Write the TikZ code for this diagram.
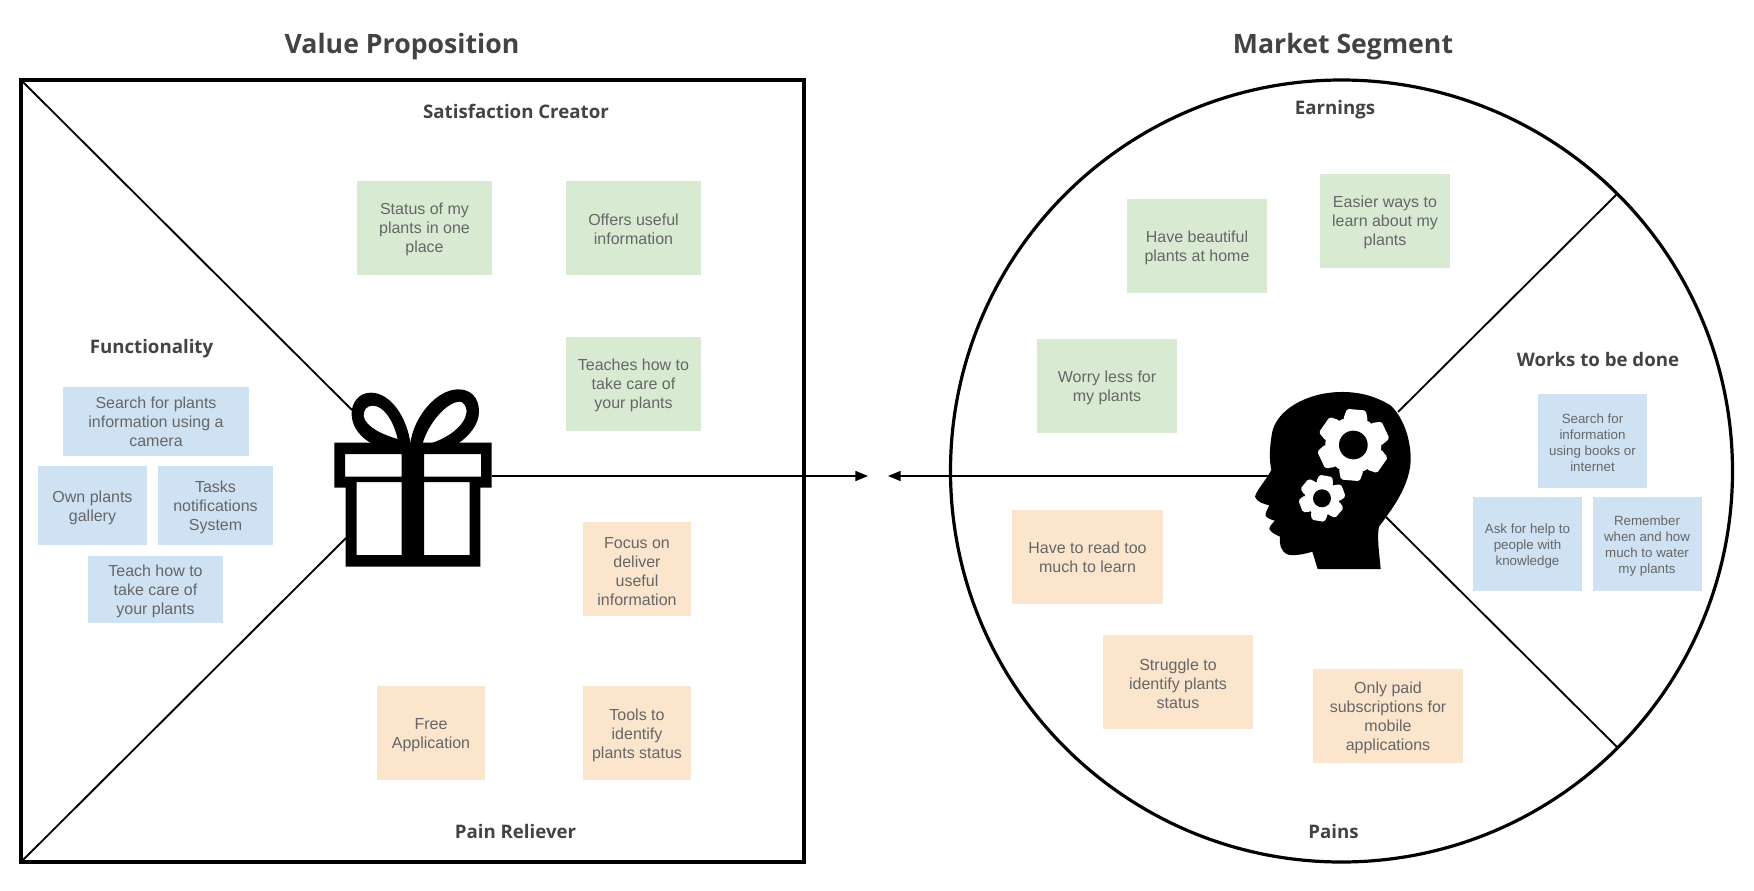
\documentclass[tikz,border=0pt]{standalone}
\usepackage{fontspec}
\usetikzlibrary{arrows.meta}
\setmainfont{Liberation Sans}
\newfontfamily\headfont{Open Sans}
\definecolor{headgrey}{HTML}{434343}
\definecolor{notegrey}{HTML}{666666}
\definecolor{notegreen}{HTML}{D9EAD3}
\definecolor{noteblue}{HTML}{CFE2F3}
\definecolor{noteorange}{HTML}{FCE5CD}

% taller first line, sets the text a little low in its note
\newcommand{\lowtext}{\rule{0pt}{1em}}

% one cog: centre, outer radius, root radius, hole radius, turn
\newcommand{\cogwheel}[5]{
	\begin{scope}[shift={(#1)}]
		\fill[white] (0,0) circle (#3);
		\foreach \a in {0,60,...,300}
			\fill[white,line join=round,draw=white,line width=3.5pt] (\a+#5-20:#3) -- (\a+#5-13:#2) -- (\a+#5+13:#2) -- (\a+#5+20:#3) -- cycle;
		\fill[black] (0,0) circle (#4);
	\end{scope}
}

\begin{document}
\begin{tikzpicture}[x=0.75pt,y=-0.75pt,
	heading/.style={font=\headfont\bfseries\fontsize{14}{17}\selectfont, text=headgrey},
	title/.style={font=\headfont\bfseries\fontsize{20}{24}\selectfont, text=headgrey},
	note/.style={font=\fontsize{12}{14.25}\selectfont, text=notegrey, align=center, inner sep=2pt, minimum width=101.25pt, minimum height=70.5pt},
	smallnote/.style={note, font=\fontsize{10}{12}\selectfont, minimum width=81.75pt},
	pile/.style={line width=1.3pt, -{Triangle[length=9.5pt,width=7.5pt]}},
	spoke/.style={line width=1.4pt},
	rim/.style={line width=2.4pt}]

	\useasboundingbox (0,0) rectangle (1754,890);

	% Outlines
	\draw[rim] (21,80) rectangle (804,862);
	\draw[rim] (1341.5,471) circle (391);

	\coordinate (boxNW) at (21,80);
	\coordinate (boxSW) at (21,862);
	\coordinate (giftNW) at (352,410);
	\coordinate (giftSW) at (346,538);
	\coordinate (giftE) at (492,476);
	\coordinate (headE) at (1270,476);
	\coordinate (headNE) at (1398,412);
	\coordinate (headSE) at (1386,517);
	\coordinate (rimNE) at (1617.5,193.5);
	\coordinate (rimSE) at (1617.5,747.5);
	\coordinate (tipL) at (868,476);
	\coordinate (tipR) at (888,476);

	\draw[spoke] (boxNW) -- (giftNW);
	\draw[spoke] (boxSW) -- (giftSW);
	\draw[spoke] (headNE) -- (rimNE);
	\draw[spoke] (headSE) -- (rimSE);
	\draw[pile] (giftE) -- (tipL);
	\draw[pile] (headE) -- (tipR);

	% Titles
	\node[title] (valueTitle) at (402,47) {Value Proposition};
	\node[title] (marketTitle) at (1343,47) {Market Segment};
	\node[heading] (creatorHead) at (516,111) {Satisfaction Creator};
	\node[heading] (functionHead) at (151.5,349) {Functionality};
	\node[heading] (relieverHead) at (515.5,831) {Pain Reliever};
	\node[heading] (earningsHead) at (1335,110) {Earnings};
	\node[heading] (worksHead) at (1598,359) {Works to be done};
	\node[heading] (painsHead) at (1333.5,831) {Pains};

	% Satisfaction creator
	\node[note, fill=notegreen] (status) at (424.5,227.5) {\lowtext Status of my\\plants in one\\place};
	\node[note, fill=notegreen] (offers) at (633.5,227.5) {\lowtext Offers useful\\information};
	\node[note, fill=notegreen] (teaches) at (633.5,383.5) {\lowtext Teaches how to\\take care of\\your plants};

	% Functionality
	\node[note, fill=noteblue, minimum width=139.5pt, minimum height=51.75pt] (searchPlants) at (156,421.5) {Search for plants\\information using a\\camera};
	\node[note, fill=noteblue, minimum width=81.75pt, minimum height=59.25pt] (gallery) at (92.5,505.5) {\lowtext Own plants\\gallery};
	\node[note, fill=noteblue, minimum width=86.25pt, minimum height=59.25pt] (tasks) at (215.5,505.5) {\lowtext Tasks\\notifications\\System};
	\node[note, fill=noteblue, minimum height=50.25pt] (teachCare) at (155.5,589.5) {\lowtext Teach how to\\take care of\\your plants};

	% Pain reliever
	\node[note, fill=noteorange, minimum width=81pt] (focus) at (637,569) {\lowtext Focus on\\deliver\\useful\\information};
	\node[note, fill=noteorange, minimum width=81pt] (free) at (431,733) {\lowtext Free\\Application};
	\node[note, fill=noteorange, minimum width=81pt] (tools) at (637,733) {\lowtext Tools to\\identify\\plants status};

	% Earnings
	\node[note, fill=notegreen, minimum width=105pt] (beautiful) at (1197,246) {\lowtext Have beautiful\\plants at home};
	\node[note, fill=notegreen, minimum width=97.5pt] (easier) at (1385,220.5) {\lowtext Easier ways to\\learn about my\\plants};
	\node[note, fill=notegreen, minimum width=105pt] (worry) at (1107,386) {\lowtext Worry less for\\my plants};

	% Pains
	\node[note, fill=noteorange, minimum width=113.25pt] (readMuch) at (1087.5,557) {Have to read too\\much to learn};
	\node[note, fill=noteorange, minimum width=112.5pt] (struggle) at (1178,682) {\lowtext Struggle to\\identify plants\\status};
	\node[note, fill=noteorange, minimum width=112.5pt] (paid) at (1388,716) {\lowtext Only paid\\subscriptions for\\mobile\\applications};

	% Works to be done
	\node[smallnote, fill=noteblue] (searchBooks) at (1592.5,441) {\lowtext Search for\\information\\using books or\\internet};
	\node[smallnote, fill=noteblue] (askHelp) at (1527.5,544) {\lowtext Ask for help to\\people with\\knowledge};
	\node[smallnote, fill=noteblue] (remember) at (1647,544) {\lowtext Remember\\when and how\\much to water\\my plants};

	% Gift
	\begin{scope}[shift={(300,360)},x=0.25pt,y=-0.25pt]
		\fill[black,even odd rule]
			(103,248) -- (575,248) -- (575,383) -- (541,383) -- (541,620) -- (137,620) -- (137,383) -- (103,383) -- cycle
			(135,282) rectangle (305,350)
			(372,282) rectangle (543,350)
			(170,366) rectangle (305,585)
			(372,366) rectangle (509,585);
		\fill[black,even odd rule]
			(332,255) .. controls (322,170) and (270,98) .. (213,98) .. controls (175,98) and (153,130) .. (155,165) .. controls (157,205) and (185,235) .. (218,252) -- cycle
			(293,237) .. controls (280,180) and (250,137) .. (218,137) .. controls (200,137) and (190,150) .. (191,168) .. controls (195,200) and (250,225) .. (293,237) -- cycle;
		\fill[black,even odd rule]
			(330,255) .. controls (340,170) and (410,88) .. (475,88) .. controls (515,88) and (537,115) .. (537,155) .. controls (537,195) and (505,230) .. (472,252) -- cycle
			(368,250) .. controls (385,190) and (440,125) .. (480,125) .. controls (490,125) and (500,140) .. (500,155) .. controls (495,200) and (440,235) .. (392,250) -- cycle;
	\end{scope}

	% Head
	\begin{scope}[shift={(1230,370)},x=0.25pt,y=-0.25pt]
		\fill[black] (263,597) -- (452,597) .. controls (448,550) and (440,500) .. (447,470) .. controls (480,425) and (545,345) .. (542,260) .. controls (540,190) and (510,130) .. (480,105) .. controls (430,75) and (380,65) .. (330,66) .. controls (230,68) and (135,120) .. (125,195) .. controls (118,240) and (118,270) .. (124,300) .. controls (105,335) and (80,360) .. (75,380) .. controls (80,395) and (100,402) .. (118,406) .. controls (112,420) and (105,428) .. (107,437) .. controls (112,445) and (125,450) .. (135,452) .. controls (125,462) and (118,470) .. (118,477) .. controls (125,490) and (140,495) .. (150,500) .. controls (148,520) and (150,545) .. (175,554) .. controls (195,558) and (225,552) .. (247,545) -- cycle;
		\cogwheel{370,225}{102}{84}{43}{35}
		\cogwheel{276,385}{63}{52}{27}{40}
	\end{scope}

\end{tikzpicture}
\end{document}
